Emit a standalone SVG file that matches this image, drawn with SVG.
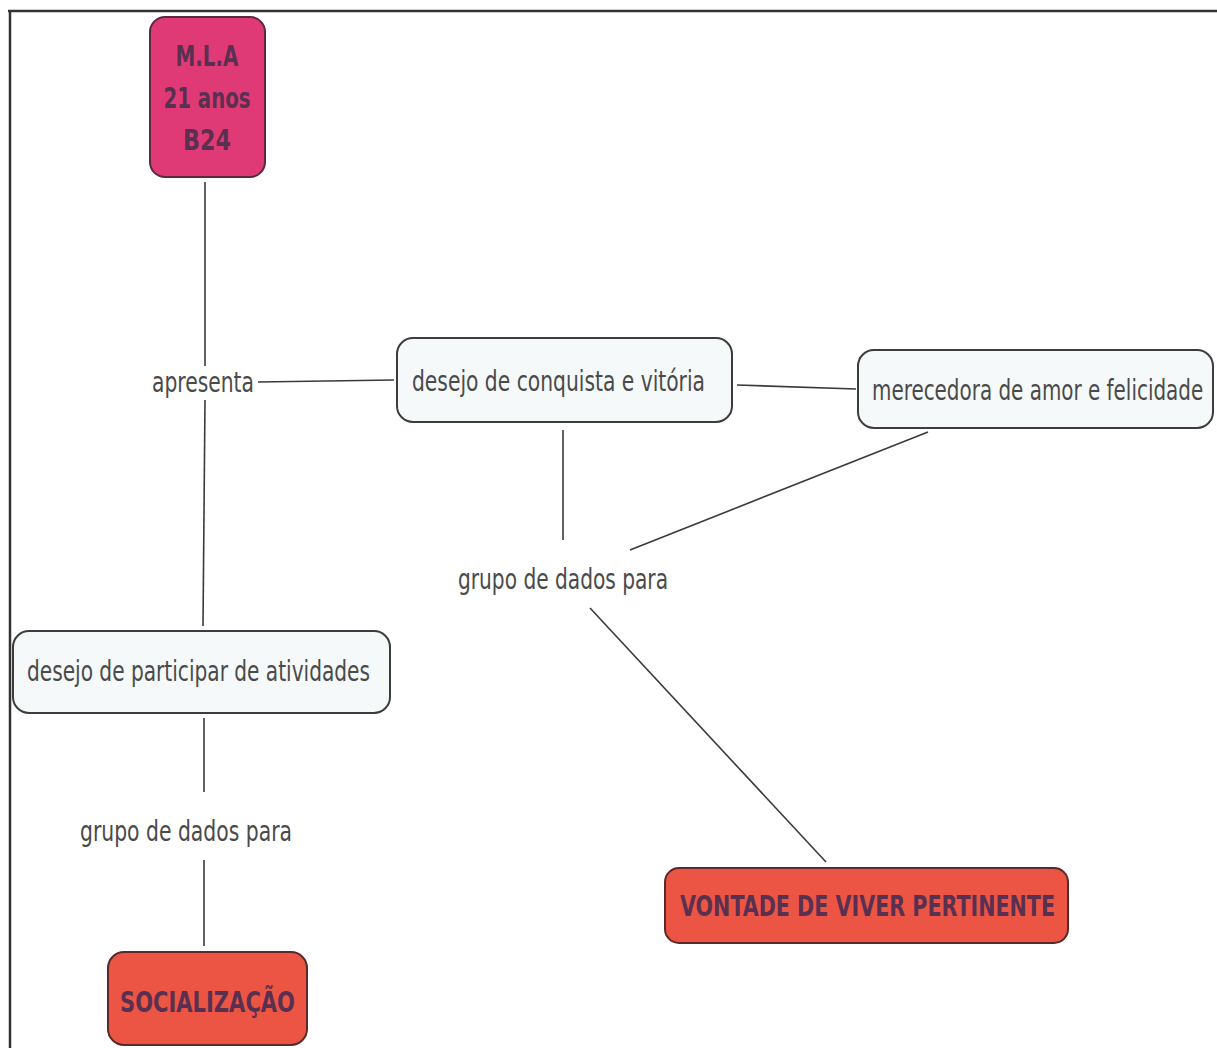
<svg xmlns="http://www.w3.org/2000/svg" width="1217" height="1048" viewBox="0 0 1217 1048">
<style>
.lt{fill:#f5f9fa;stroke:#3c3c3c;stroke-width:2}
.pk{fill:#e03a76;stroke:#5a2a3a;stroke-width:2}
.rd{fill:#ec5444;stroke:#5a2a2a;stroke-width:2}
.t{font-family:"DejaVu Sans Condensed","DejaVu Sans",sans-serif;font-size:28px;fill:#4a4a4a}
.b{font-family:"DejaVu Sans Condensed","DejaVu Sans",sans-serif;font-size:28px;font-weight:bold;fill:#5a3050}
.c line{stroke:#3a3a3a;stroke-width:1.6}
</style>
<rect width="1217" height="1048" fill="#ffffff"/>
<line x1="8" y1="11" x2="1217" y2="11" stroke="#333" stroke-width="2.5"/>
<line x1="10" y1="11" x2="10" y2="1048" stroke="#333" stroke-width="2.5"/>
<g class="c" id="connectors">
<line x1="205" y1="182" x2="205" y2="366"/>
<line x1="205" y1="400" x2="203" y2="626"/>
<line x1="258" y1="382" x2="394" y2="380"/>
<line x1="737" y1="385" x2="856" y2="389"/>
<line x1="563" y1="430" x2="563" y2="540"/>
<line x1="928" y1="432" x2="630" y2="550"/>
<line x1="590" y1="608" x2="826" y2="862"/>
<line x1="204" y1="718" x2="204" y2="792"/>
<line x1="204" y1="860" x2="204" y2="946"/>
</g>
<g id="mla">
<rect class="pk" x="150" y="17" width="115" height="160" rx="15"/>
<text class="b" x="207" y="66" text-anchor="middle" textLength="63" lengthAdjust="spacingAndGlyphs">M.L.A</text>
<text class="b" x="207" y="108" text-anchor="middle" textLength="87" lengthAdjust="spacingAndGlyphs">21 anos</text>
<text class="b" x="207" y="150" text-anchor="middle" textLength="48" lengthAdjust="spacingAndGlyphs">B24</text>
</g>
<g id="apresenta">
<text class="t" x="152" y="392" textLength="102" lengthAdjust="spacingAndGlyphs">apresenta</text>
</g>
<g id="conquista">
<rect class="lt" x="397" y="338" width="335" height="84" rx="16"/>
<text class="t" x="412" y="391" textLength="293" lengthAdjust="spacingAndGlyphs">desejo de conquista e vitória</text>
</g>
<g id="merecedora">
<rect class="lt" x="858" y="350" width="355" height="78" rx="16"/>
<text class="t" transform="translate(872,400) scale(0.8,1)" x="0" y="0" textLength="414" lengthAdjust="spacingAndGlyphs">merecedora de amor e felicidade</text>
</g>
<g id="grupo1">
<text class="t" x="458" y="589" textLength="210" lengthAdjust="spacingAndGlyphs">grupo de dados para</text>
</g>
<g id="vontade">
<rect class="rd" x="665" y="868" width="403" height="75" rx="14"/>
<text class="b" x="680" y="916" textLength="375" lengthAdjust="spacingAndGlyphs">VONTADE DE VIVER PERTINENTE</text>
</g>
<g id="participar">
<rect class="lt" x="13" y="631" width="377" height="82" rx="16"/>
<text class="t" x="27" y="681" textLength="343" lengthAdjust="spacingAndGlyphs">desejo de participar de atividades</text>
</g>
<g id="grupo2">
<text class="t" x="80" y="841" textLength="212" lengthAdjust="spacingAndGlyphs">grupo de dados para</text>
</g>
<g id="socializacao">
<rect class="rd" x="108" y="952" width="199" height="93" rx="16"/>
<text class="b" x="120" y="1012" textLength="175" lengthAdjust="spacingAndGlyphs">SOCIALIZAÇÃO</text>
</g>
</svg>
